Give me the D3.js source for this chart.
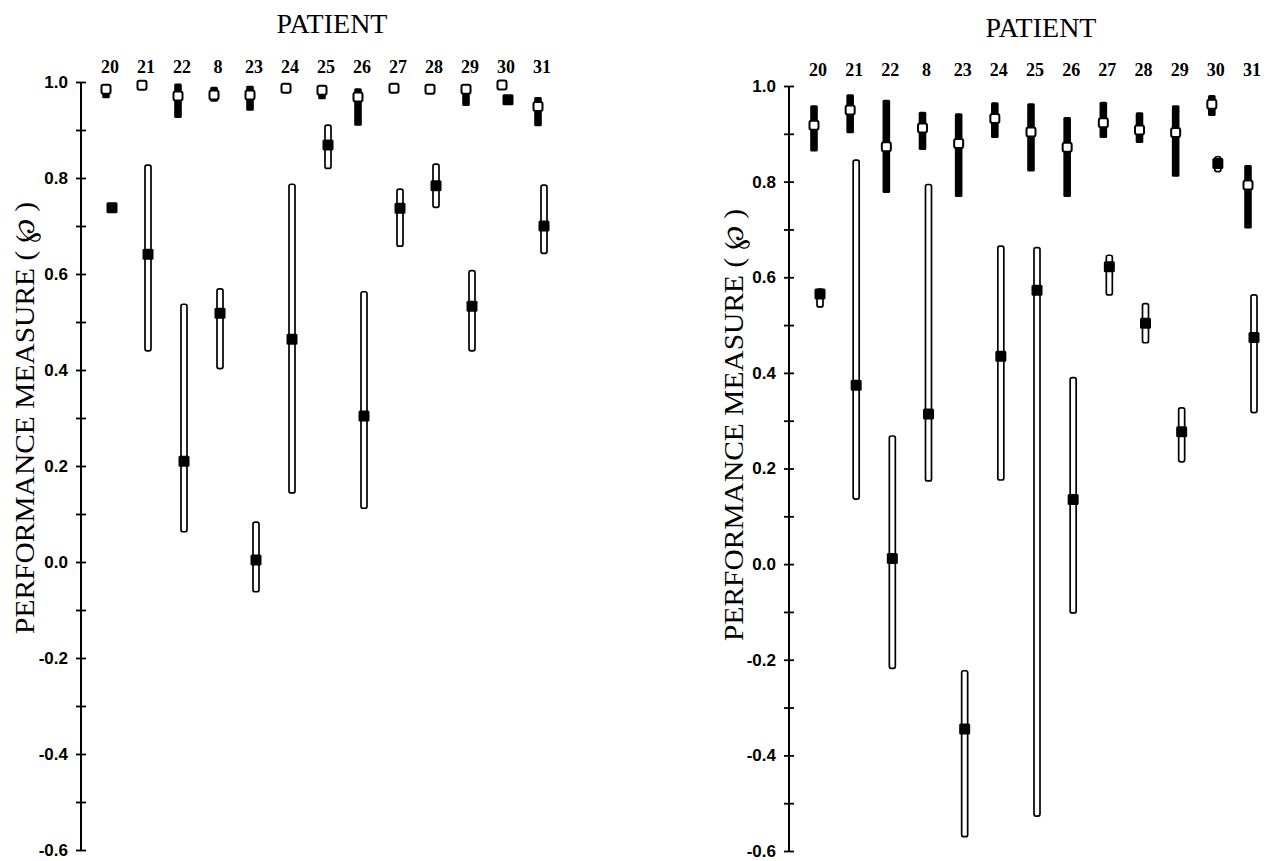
<!DOCTYPE html>
<html>
<head>
<meta charset="utf-8">
<script src="https://cdn.jsdelivr.net/npm/d3@7"></script>
<style>
  body { margin: 0; background: #fff; }
  svg { display: block; }
  .serif { font-family: "Liberation Serif", "DejaVu Serif", serif; }
  .sans { font-family: "Liberation Sans", "DejaVu Sans", sans-serif; }
</style>
</head>
<body>
<svg id="chart" width="1274" height="861"></svg>
<script>
// patient order along the top
const patients = ["20", "21", "22", "8", "23", "24", "25", "26", "27", "28", "29", "30", "31"];
const yTicks = d3.range(-6, 11).map(i => i / 10);

// left panel: open squares (black bars)
const leftOpenMean = [0.985, 0.993, 0.971, 0.973, 0.973, 0.987, 0.983, 0.969, 0.987, 0.985, 0.985, 0.994, 0.949];
const leftOpenLo   = [0.966, 0.990, 0.925, 0.959, 0.940, 0.984, 0.964, 0.909, 0.984, 0.982, 0.950, 0.991, 0.908];
const leftOpenHi   = [0.994, 0.996, 0.997, 0.990, 0.992, 0.990, 0.994, 0.987, 0.990, 0.988, 0.995, 0.997, 0.969];
// left panel: filled squares (open bars)
const leftFillMean = [0.738, 0.641, 0.210, 0.518, 0.004, 0.464, 0.869, 0.304, 0.737, 0.784, 0.533, 0.963, 0.700];
const leftFillLo   = [0.735, 0.440, 0.063, 0.403, -0.062, 0.144, 0.820, 0.112, 0.658, 0.739, 0.440, 0.960, 0.643];
const leftFillHi   = [0.742, 0.827, 0.537, 0.569, 0.083, 0.787, 0.910, 0.563, 0.777, 0.829, 0.607, 0.966, 0.785];

// right panel: open squares (black bars)
const rightOpenMean = [0.918, 0.950, 0.873, 0.912, 0.880, 0.932, 0.904, 0.872, 0.923, 0.908, 0.903, 0.962, 0.793];
const rightOpenLo   = [0.863, 0.901, 0.776, 0.866, 0.768, 0.891, 0.821, 0.768, 0.891, 0.881, 0.810, 0.937, 0.702];
const rightOpenHi   = [0.960, 0.983, 0.971, 0.946, 0.943, 0.966, 0.964, 0.935, 0.967, 0.945, 0.960, 0.981, 0.835];
// right panel: filled squares (open bars)
const rightFillMean = [0.565, 0.374, 0.012, 0.314, -0.345, 0.435, 0.573, 0.135, 0.622, 0.504, 0.277, 0.838, 0.474];
const rightFillLo   = [0.538, 0.136, -0.218, 0.174, -0.570, 0.176, -0.527, -0.102, 0.563, 0.463, 0.214, 0.821, 0.317];
const rightFillHi   = [0.575, 0.845, 0.268, 0.794, -0.223, 0.665, 0.662, 0.390, 0.646, 0.545, 0.327, 0.852, 0.563];

const svg = d3.select("#chart");
svg.append("rect").attr("width", 1274).attr("height", 861).attr("fill", "#fff");

const rows = (mean, lo, hi) => patients.map((p, i) => ({p, mean: mean[i], lo: lo[i], hi: hi[i]}));

const drawPanel = (cfg) => {
    const x = d3.scalePoint().domain(patients).range(cfg.xRange);
    const y = d3.scaleLinear().domain([-0.6, 1.0]).range(cfg.yRange);
    const g = svg.append("g");

    // y axis with crossing ticks
    const axis = d3.axisLeft(y)
        .tickValues(yTicks)
        .tickSize(5)
        .tickPadding(8)
        .tickFormat(d => Math.round(d * 10) % 2 === 0 ? d.toFixed(1) : "");
    const ax = g.append("g")
        .attr("transform", `translate(${cfg.axisX},0)`)
        .call(axis)
        .attr("font-family", null)
        .attr("font-size", null);
    ax.select(".domain").remove();
    ax.append("line")
        .attr("y1", y(1.0)).attr("y2", y(-0.6))
        .attr("stroke", "#000").attr("stroke-width", 2);
    ax.selectAll(".tick line").attr("x1", -5).attr("x2", 5).attr("stroke-width", 1.8);
    ax.selectAll(".tick text")
        .attr("class", "sans")
        .attr("font-weight", "bold")
        .attr("font-size", 17)
        .attr("fill", "#000");

    // titles
    g.append("text")
        .attr("class", "serif")
        .attr("x", cfg.titleX).attr("y", cfg.titleY)
        .attr("text-anchor", "middle")
        .attr("font-size", 28)
        .text("PATIENT");

    g.append("text")
        .attr("class", "serif")
        .attr("transform", `translate(${cfg.yTitleX},${cfg.yTitleY}) rotate(-90)`)
        .attr("text-anchor", "middle")
        .attr("dominant-baseline", "central")
        .attr("font-size", 28)
        .attr("textLength", 432)
        .attr("lengthAdjust", "spacingAndGlyphs")
        .text("PERFORMANCE MEASURE ( \u2118 )");

    g.selectAll(".plabel")
        .data(patients)
        .join("text")
        .attr("class", "plabel serif")
        .attr("x", d => x(d) + 1)
        .attr("y", cfg.labelY)
        .attr("text-anchor", "middle")
        .attr("font-weight", "bold")
        .attr("font-size", 18)
        .text(d => d);

    const openRows = rows(cfg.openMean, cfg.openLo, cfg.openHi);
    const fillRows = rows(cfg.fillMean, cfg.fillLo, cfg.fillHi);

    // open-outline bars for filled-square series
    g.selectAll(".obar")
        .data(fillRows)
        .join("rect")
        .attr("class", "obar")
        .attr("x", d => x(d.p))
        .attr("width", 6)
        .attr("y", d => y(d.hi))
        .attr("height", d => y(d.lo) - y(d.hi))
        .attr("rx", 2)
        .attr("fill", "#fff")
        .attr("stroke", "#000")
        .attr("stroke-width", 1.7);

    g.selectAll(".fsq")
        .data(fillRows)
        .join("rect")
        .attr("class", "fsq")
        .attr("x", d => x(d.p) + 3 - 5.5)
        .attr("y", d => y(d.mean) - 5.5)
        .attr("width", 11).attr("height", 11)
        .attr("rx", 1.5)
        .attr("fill", "#000");

    // solid bars for open-square series
    g.selectAll(".bbar")
        .data(openRows)
        .join("rect")
        .attr("class", "bbar")
        .attr("x", d => x(d.p) - 3 - 3.8)
        .attr("width", 7.6)
        .attr("y", d => y(d.hi))
        .attr("height", d => y(d.lo) - y(d.hi))
        .attr("rx", 1.5)
        .attr("fill", "#000");

    g.selectAll(".osq")
        .data(openRows)
        .join("rect")
        .attr("class", "osq")
        .attr("x", d => x(d.p) - 3 - 4.5)
        .attr("y", d => y(d.mean) - 4.5)
        .attr("width", 9).attr("height", 9)
        .attr("rx", 2)
        .attr("fill", "#fff")
        .attr("stroke", "#000")
        .attr("stroke-width", 2);
};

drawPanel({
    axisX: 81, xRange: [109, 541], yRange: [850, 82],
    titleX: 332, titleY: 33, labelY: 73, yTitleX: 24, yTitleY: 418,
    openMean: leftOpenMean, openLo: leftOpenLo, openHi: leftOpenHi,
    fillMean: leftFillMean, fillLo: leftFillLo, fillHi: leftFillHi
});

drawPanel({
    axisX: 789, xRange: [817, 1251], yRange: [851, 86],
    titleX: 1041, titleY: 37, labelY: 76, yTitleX: 733, yTitleY: 425,
    openMean: rightOpenMean, openLo: rightOpenLo, openHi: rightOpenHi,
    fillMean: rightFillMean, fillLo: rightFillLo, fillHi: rightFillHi
});
</script>
</body>
</html>
